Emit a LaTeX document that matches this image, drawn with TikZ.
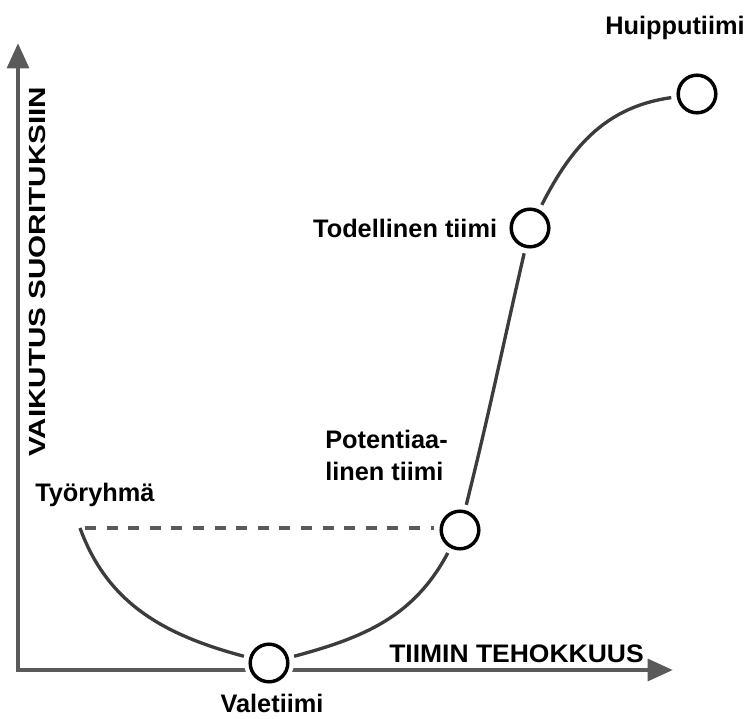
\documentclass[tikz,border=0pt]{standalone}
\usepackage{fontspec}
\setmainfont{Liberation Sans}
\usepackage{graphicx}
\usetikzlibrary{positioning,arrows.meta}
\definecolor{axisgray}{HTML}{5A5A5A}
\definecolor{curvegray}{HTML}{3C3C3C}

\begin{document}
\begin{tikzpicture}[x=0.75pt,y=0.75pt,
  font=\fontsize{19}{24}\selectfont\bfseries,
  axis/.style={draw=axisgray,line width=3.7pt,
    {Triangle[length=19pt,width=16pt]}-{Triangle[length=19pt,width=16pt]}},
  team/.style={circle,draw=black,fill=white,line width=2.6pt,
    minimum size=28.2pt,inner sep=0pt,outer sep=5.4pt,
    preaction={draw=white,line width=9pt}},
  curve/.style={draw=curvegray,line width=2.5pt},
  level/.style={draw=axisgray,line width=2.3pt,dash pattern=on 8.2pt off 8pt},
  lbl/.style={inner sep=0pt,text=black}]
\useasboundingbox (0,0) rectangle (745,718);
%\draw[help lines,step=50] (0,0) grid (745,718);
\coordinate (origin) at (18,48);
\coordinate (ytop) at (18,675);
\coordinate (xend) at (673,48);
\draw[axis] (ytop) -- (origin) -- (xend);

\node[team] (vale) at (269,55) {};
\node[team] (pot) at (460,188) {};
\node[team] (tod) at (530,490) {};
\node[team] (hui) at (697,624) {};
\coordinate (tyo) at (80,190);

\draw[curve] (tyo) to[out=-70,in=165] (vale);
\draw[curve] (vale) to[out=15,in=242] (pot);
\draw[curve] (pot) to[out=76,in=-103] (tod);
\draw[curve] (tod) to[out=63,in=188] (hui);
\draw[level] (85,190) -- (tyo -| pot.west);

\node[lbl,anchor=base west] (tyolbl) at (35,217) {Työryhmä};
\node[lbl,anchor=base] (valelbl) at (272,6) {Valetiimi};
\node[lbl,anchor=base west,align=left] (potlbl) at (325,238) {Potentiaa-\\linen tiimi};
\node[lbl,left=5pt of tod] (todlbl) {Todellinen tiimi};
\node[lbl,anchor=base west] (huilbl) at (605,683) {Huipputiimi};
\node[lbl,anchor=base west] (xlbl) at (389,56) {\scalebox{1.045}[1]{TIIMIN TEHOKKUUS}};
\node[lbl,rotate=90,anchor=base west] (ylbl) at (45,261)
  {\scalebox{1.27}[1]{\fontsize{17.5}{20}\selectfont VAIKUTUS SUORITUKSIIN}};
\end{tikzpicture}
\end{document}
